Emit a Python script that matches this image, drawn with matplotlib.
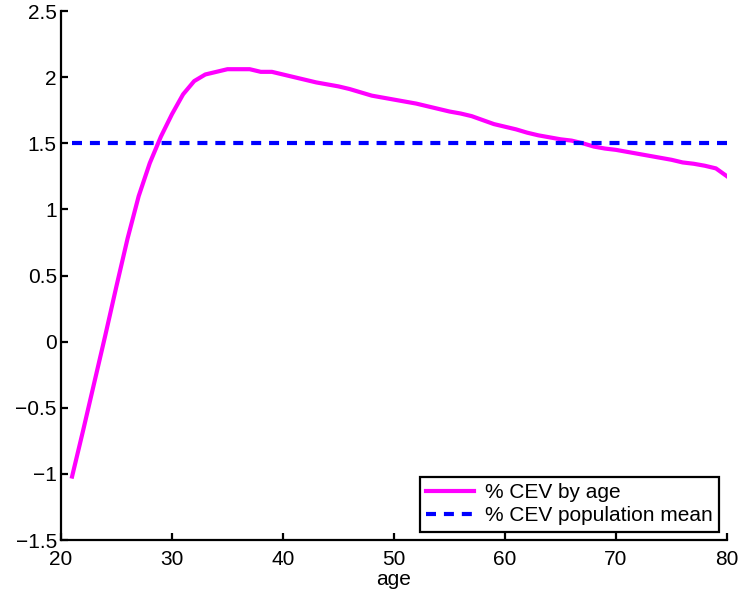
import matplotlib
matplotlib.use("Agg")
import matplotlib.pyplot as plt

ages = list(range(21, 81))
cev_by_age = [-1.02, -0.67, -0.31, 0.05, 0.42, 0.78, 1.10, 1.35, 1.55, 1.72,
              1.87, 1.97, 2.02, 2.04, 2.06, 2.06, 2.06, 2.04, 2.04, 2.02,
              2.00, 1.98, 1.96, 1.945, 1.93, 1.91, 1.885, 1.86, 1.845, 1.83,
              1.815, 1.80, 1.78, 1.76, 1.74, 1.725, 1.705, 1.675, 1.645, 1.625,
              1.605, 1.58, 1.56, 1.545, 1.53, 1.52, 1.50, 1.475, 1.46, 1.45,
              1.435, 1.42, 1.405, 1.39, 1.375, 1.355, 1.345, 1.33, 1.31, 1.25]
pop_mean = 1.5
xticks = [20, 30, 40, 50, 60, 70, 80]
yticks = [-1.5, -1, -0.5, 0, 0.5, 1, 1.5, 2, 2.5]
ytick_labels = ["\u22121.5", "\u22121", "\u22120.5", "0", "0.5", "1", "1.5", "2", "2.5"]

plt.rcParams['font.family'] = ['Liberation Sans', 'DejaVu Sans']
fig = plt.figure(figsize=(7.39, 5.95), dpi=100)
ax = fig.add_axes([0.0825, 0.0924, 0.9013, 0.8891])

ax.plot(ages, cev_by_age, color='#ff00ff', lw=3, label='% CEV by age')
ax.plot(ages, [pop_mean] * len(ages), color='#0000ff', lw=3,
        dashes=(2.4, 1.9), dash_capstyle='butt', label='% CEV population mean')

ax.set_xlim(20, 80)
ax.set_ylim(-1.5, 2.5)
ax.set_xticks(xticks)
ax.set_yticks(yticks)
ax.set_yticklabels(ytick_labels)
ax.tick_params(direction='in', length=5, width=1.6, labelsize=15)
ax.tick_params(axis='x', pad=7)
ax.tick_params(axis='y', pad=3)
for s in ['top', 'right']:
    ax.spines[s].set_visible(False)
for s in ['left', 'bottom']:
    ax.spines[s].set_linewidth(1.6)
ax.set_xlabel('age', fontsize=15, labelpad=1)

leg = ax.legend(loc='lower right', fontsize=15, fancybox=False, framealpha=1,
                edgecolor='black', borderpad=0.3, labelspacing=0.2,
                handlelength=2.3, handletextpad=0.5, borderaxespad=0.4)
leg.get_frame().set_linewidth(1.6)

fig.savefig('out.png', dpi=100)
